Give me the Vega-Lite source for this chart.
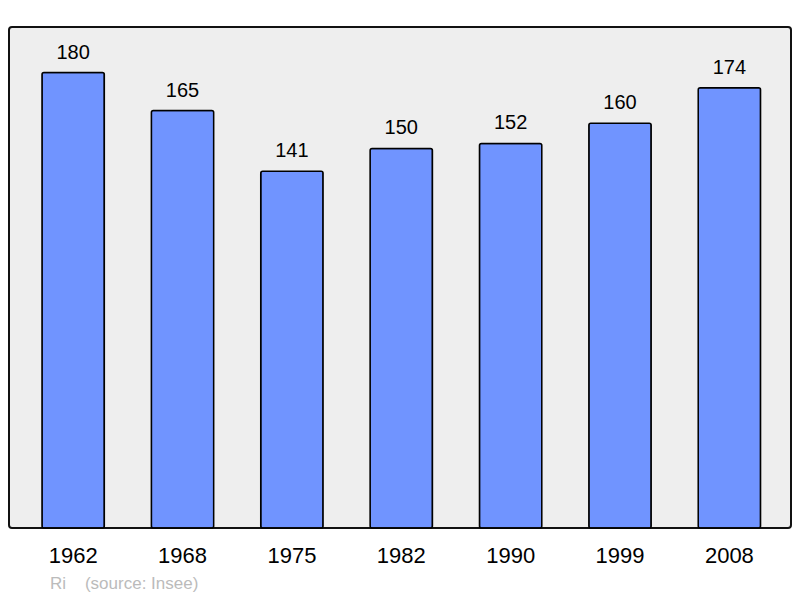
{
  "$schema": "https://vega.github.io/schema/vega-lite/v6.json",
  "width": 782,
  "height": 501,
  "autosize": {"type": "none"},
  "padding": {"left": 9, "top": 27, "right": 9, "bottom": 70},
  "background": "white",
  "config": {
    "font": "Liberation Sans",
    "view": {"stroke": "#111111", "strokeWidth": 2, "fill": "#EEEEEE", "cornerRadius": 3}
  },
  "title": {
    "text": "Ri\u00a0\u00a0\u00a0\u00a0(source: Insee)",
    "orient": "bottom",
    "anchor": "start",
    "dx": 41,
    "offset": 10,
    "fontSize": 17,
    "fontWeight": "normal",
    "color": "#BBBBBB",
    "font": "Liberation Sans"
  },
  "data": {
    "values": [
      {"year": "1962", "pop": 180},
      {"year": "1968", "pop": 165},
      {"year": "1975", "pop": 141},
      {"year": "1982", "pop": 150},
      {"year": "1990", "pop": 152},
      {"year": "1999", "pop": 160},
      {"year": "2008", "pop": 174}
    ]
  },
  "encoding": {
    "x": {
      "field": "year",
      "type": "ordinal",
      "sort": null,
      "scale": {"paddingInner": 0.43, "paddingOuter": 0.29, "align": 0.52},
      "axis": {
        "title": null,
        "labelAngle": 0,
        "ticks": false,
        "domain": false,
        "labelFontSize": 22,
        "labelColor": "#000000",
        "labelPadding": 17,
        "labelFont": "Liberation Sans"
      }
    },
    "y": {
      "field": "pop",
      "type": "quantitative",
      "scale": {"domain": [0, 198], "nice": false},
      "axis": null
    }
  },
  "layer": [
    {
      "mark": {"type": "bar", "fill": "#7094FF", "stroke": "#000000", "strokeWidth": 1.5, "cornerRadius": 2}
    },
    {
      "mark": {"type": "text", "baseline": "alphabetic", "dy": -14, "fontSize": 20, "color": "#000000", "font": "Liberation Sans"},
      "encoding": {"text": {"field": "pop", "type": "quantitative"}}
    }
  ]
}
